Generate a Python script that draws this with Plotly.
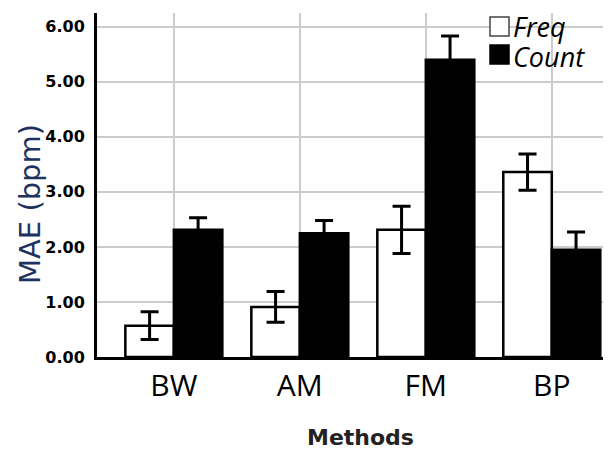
import plotly.graph_objects as go

methods = ["BW", "AM", "FM", "BP"]
freq_mae = [0.57, 0.91, 2.31, 3.36]
freq_err = [0.25, 0.28, 0.43, 0.33]
count_mae = [2.31, 2.25, 5.40, 1.95]
count_err = [0.22, 0.23, 0.43, 0.32]
yticks = [0, 1, 2, 3, 4, 5, 6]
series_names = ["Freq", "Count"]

# page body has an 8px margin, so the figure is sized to fill the rest of the window
OFF = 8
FIG_W, FIG_H = 611 - OFF, 450 - OFF
L, T, W, H = 97, 13, 514, 344   # plot area in window pixels

fig = go.Figure()
fig.add_trace(go.Bar(
    x=methods, y=freq_mae, name=series_names[0], showlegend=False,
    marker=dict(color="white", line=dict(color="black", width=2.5)),
    error_y=dict(type="data", array=freq_err, color="black", thickness=3, width=9),
))
fig.add_trace(go.Bar(
    x=methods, y=count_mae, name=series_names[1], showlegend=False,
    marker=dict(color="black", line=dict(color="black", width=2.5)),
    error_y=dict(type="data", array=count_err, color="black", thickness=3, width=9),
))

def px(xp):
    return (xp - L) / W
def py(yp):
    return (T + H - yp) / H

# custom legend (top right)
fig.add_shape(type="rect", xref="paper", yref="paper",
              x0=px(490), x1=px(509), y0=py(36), y1=py(17),
              line=dict(color="#444", width=1.5), fillcolor="white")
fig.add_shape(type="rect", xref="paper", yref="paper",
              x0=px(490), x1=px(509), y0=py(64), y1=py(45),
              line=dict(color="black", width=1.5), fillcolor="black")
for name, yc in zip(series_names, [27, 56]):
    fig.add_annotation(text=name, xref="paper", yref="paper", x=px(511), y=py(yc),
                       xanchor="left", yanchor="middle", showarrow=False,
                       font=dict(family="Open Sans", size=27, color="black", style="italic"))

# axis titles
fig.add_annotation(text="MAE (bpm)", xref="paper", yref="paper", x=px(30), y=py(204),
                   xanchor="center", yanchor="middle", textangle=-90, showarrow=False,
                   font=dict(family="DejaVu Sans", size=29, color="#1d3260"))
fig.add_annotation(text="Methods", xref="paper", yref="paper", x=px(360), y=py(437),
                   xanchor="center", yanchor="middle", showarrow=False,
                   font=dict(family="DejaVu Sans", size=22, color="#222", weight="bold"))

fig.update_layout(
    width=FIG_W, height=FIG_H,
    margin=dict(l=L - OFF, r=0, t=T - OFF, b=FIG_H - (T + H - OFF)),
    paper_bgcolor="white", plot_bgcolor="white",
    barmode="group", bargap=0.23, bargroupgap=0,
    showlegend=False,
    xaxis=dict(
        range=[-0.61, 3.47], automargin=False,
        showline=True, linecolor="black", linewidth=3,
        showgrid=True, gridcolor="#cccccc", gridwidth=1.5,
        ticks="", tickfont=dict(family="Open Sans", size=30, color="black"),
        ticklabelstandoff=0,
        zeroline=False,
    ),
    yaxis=dict(
        range=[0, 6.25], automargin=False,
        tickvals=yticks, tickformat=".2f",
        showline=True, linecolor="black", linewidth=3,
        showgrid=True, gridcolor="#cccccc", gridwidth=1.5,
        ticks="", tickfont=dict(family="DejaVu Sans", size=16, color="black", weight="bold"),
        ticklabelstandoff=6,
        zeroline=False,
    ),
)

fig.write_html("out.html")
